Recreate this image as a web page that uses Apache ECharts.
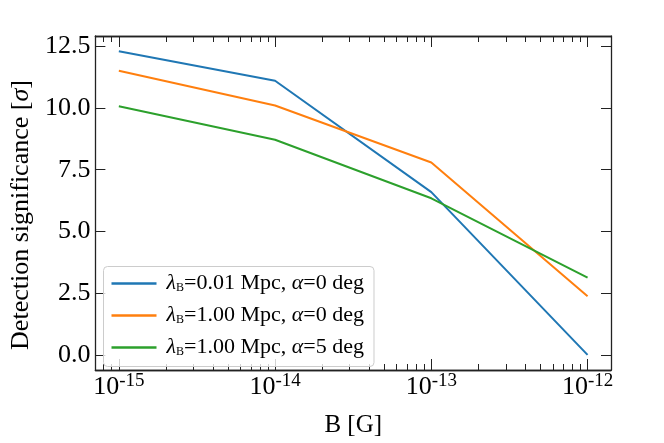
<!DOCTYPE html>
<html>
<head>
<meta charset="utf-8">
<script src="https://cdn.jsdelivr.net/npm/echarts@6/dist/echarts.min.js"></script>
<style>html,body{margin:0;padding:0;background:#fff;}#c{width:664px;height:443px;}</style>
</head>
<body>
<div id="c"></div>
<script>
// ---- data ----
const fieldB = [1e-15, 1e-14, 1e-13, 1e-12];
const sigLam001Alpha0 = [12.30, 11.10, 6.59, 0.0];
const sigLam100Alpha0 = [11.51, 10.10, 7.79, 2.37];
const sigLam100Alpha5 = [10.07, 8.71, 6.34, 3.13];
const seriesNames = ['λB=0.01 Mpc, α=0 deg', 'λB=1.00 Mpc, α=0 deg', 'λB=1.00 Mpc, α=5 deg'];
const legendParts = [['0.01', '0'], ['1.00', '0'], ['1.00', '5']];
const xMajorTicks = [1e-15, 1e-14, 1e-13, 1e-12];
const yTicks = [0, 2.5, 5.0, 7.5, 10.0, 12.5];

// ---- build ----
const colors = ['#1f77b4', '#ff7f0e', '#2ca02c'];
const FONT = '"Liberation Serif", "Times New Roman", serif';
const xMin = -15.15, xMax = -11.85;
const yMin = -0.615, yMax = 12.915;
const lg = v => Math.log10(v);
const xMajor = xMajorTicks.map(lg);
const xMinor = [];
for (let e = -16; e <= -12; e++) {
  for (let k = 2; k <= 9; k++) {
    const v = Math.log10(k) + e;
    if (v > xMin && v < xMax) xMinor.push(v);
  }
}
const axisLine = {show: true, onZero: false, lineStyle: {color: '#222', width: 1.3}};
function xAx(pos, ticks, len, labels) {
  return {
    type: 'value', position: pos, min: xMin, max: xMax,
    axisLine: axisLine,
    axisTick: {show: true, inside: true, length: len, customValues: ticks, lineStyle: {color: '#222', width: 1}},
    axisLabel: labels ? {
      show: true, customValues: ticks, margin: 2, fontFamily: FONT,
      formatter: v => '{b|10}{s|' + Math.round(v) + '}',
      rich: {
        b: {fontSize: 26, fontFamily: FONT, color: '#000'},
        s: {fontSize: 19, fontFamily: FONT, color: '#000', padding: [0, 0, 11, 0]}
      }
    } : {show: false},
    splitLine: {show: false},
    name: labels ? 'B [G]' : '', nameLocation: 'middle', nameGap: 43,
    nameTextStyle: {fontSize: 25, fontFamily: FONT, color: '#000'}
  };
}
function yAx(pos, labels) {
  return {
    type: 'value', position: pos, min: yMin, max: yMax,
    axisLine: axisLine,
    axisTick: {show: true, inside: true, length: 10, customValues: yTicks, lineStyle: {color: '#222', width: 1}},
    axisLabel: labels ? {
      show: true, customValues: yTicks, margin: 5, fontSize: 26, fontFamily: FONT, color: '#000',
      formatter: v => v.toFixed(1)
    } : {show: false},
    splitLine: {show: false},
    name: labels ? '{n|Detection significance [}{i|σ}{n|]}' : '',
    nameLocation: 'middle', nameGap: 60, nameRotate: 90,
    nameTextStyle: {
      fontFamily: FONT, color: '#000', fontSize: 26, padding: [0, 24, 0, 0],
      rich: {
        n: {fontSize: 26, fontFamily: FONT, color: '#000'},
        i: {fontSize: 26, fontFamily: FONT, color: '#000', fontStyle: 'italic'}
      }
    }
  };
}
const seriesData = [sigLam001Alpha0, sigLam100Alpha0, sigLam100Alpha5];
const option = {
  animation: false,
  backgroundColor: '#fff',
  color: colors,
  grid: {left: 93, right: 53, top: 36, bottom: 63.5, containLabel: false},
  xAxis: [xAx('bottom', xMajor, 11, true), xAx('bottom', xMinor, 6, false), xAx('top', xMajor, 11, false), xAx('top', xMinor, 6, false)],
  yAxis: [yAx('left', true), yAx('right', false)],
  legend: {
    orient: 'vertical', left: 103.5, top: 266.5,
    data: seriesNames,
    icon: 'rect', itemWidth: 45, itemHeight: 2.5, itemGap: 8,
    backgroundColor: 'rgba(255,255,255,0.8)', borderColor: '#cccccc', borderWidth: 1, borderRadius: 4,
    padding: [5, 10, 7, 8],
    formatter: name => {
      const p = legendParts[seriesNames.indexOf(name)];
      return '{g0|λ}{sub|B}{t|=' + p[0] + ' Mpc, }{g|α}{t|=' + p[1] + ' deg}';
    },
    textStyle: {
      fontFamily: FONT, fontSize: 22, color: '#000', lineHeight: 24,
      rich: {
        g0: {fontFamily: FONT, fontSize: 22, fontStyle: 'italic', color: '#000', padding: [0, 0, 0, 5]},
        g: {fontFamily: FONT, fontSize: 22, fontStyle: 'italic', color: '#000'},
        sub: {fontFamily: FONT, fontSize: 12, color: '#000', padding: [9, 0, 0, 0]},
        t: {fontFamily: FONT, fontSize: 22, color: '#000'}
      }
    }
  },
  series: seriesData.map((d, i) => ({
    type: 'line', name: seriesNames[i], xAxisIndex: 0, yAxisIndex: 0,
    data: fieldB.map((b, j) => [lg(b), d[j]]),
    symbol: 'none', showSymbol: false,
    lineStyle: {width: 2, color: colors[i]}
  }))
};
const chart = echarts.init(document.getElementById('c'), null, {renderer: 'canvas'});
chart.setOption(option);
</script>
</body>
</html>
